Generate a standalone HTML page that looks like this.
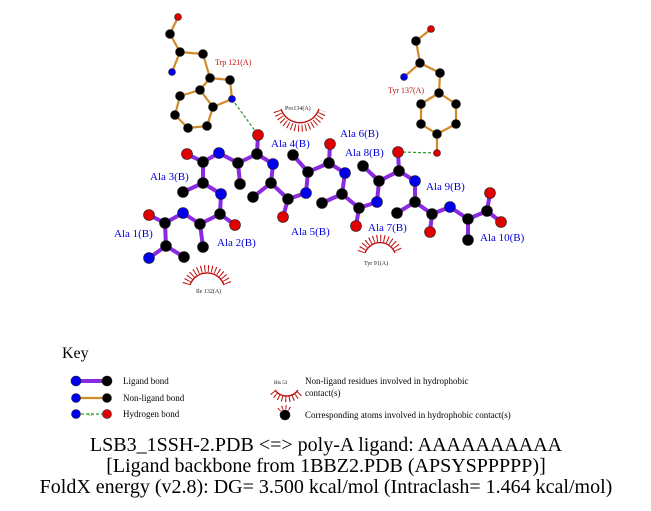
<!DOCTYPE html>
<html><head><meta charset="utf-8"><style>
html,body{margin:0;padding:0;background:#fff;width:651px;height:511px;overflow:hidden}
svg{display:block}
.lb{stroke:#8a2be2;stroke-width:4;stroke-linecap:round}
.nb{stroke:#d08a2a;stroke-width:2.2}
.C{fill:#000}.N{fill:#0000ee}.O{fill:#e00000}
circle{stroke:#222;stroke-width:.6}
.al{font:11px "Liberation Serif",serif;fill:#0000dd}
.rl{font:8px "Liberation Serif",serif;fill:#c01010}
.sl{font:6px "Liberation Serif",serif;fill:#222}
.k{font:9px "Liberation Serif",serif;fill:#000}
.t{font:20px "Liberation Serif",serif;fill:#000}
.arc{fill:none;stroke:#c01010;stroke-width:1.4}
.sp{fill:none;stroke:#c01010;stroke-width:7;stroke-dasharray:1 2.6}
</style></head><body>
<svg width="651" height="511" viewBox="0 0 651 511" xmlns="http://www.w3.org/2000/svg">
<g class="nb">
<line x1="178" y1="17" x2="170" y2="34"/><line x1="170" y1="34" x2="180" y2="52"/><line x1="180" y1="52" x2="172" y2="72"/><line x1="180" y1="52" x2="203" y2="54"/><line x1="203" y1="54" x2="210" y2="78"/><line x1="210" y1="78" x2="230" y2="80"/><line x1="230" y1="80" x2="232" y2="99"/><line x1="232" y1="99" x2="213" y2="107"/><line x1="213" y1="107" x2="200" y2="90"/><line x1="200" y1="90" x2="210" y2="78"/><line x1="200" y1="90" x2="180" y2="96"/><line x1="180" y1="96" x2="175" y2="115"/><line x1="175" y1="115" x2="188" y2="128"/><line x1="188" y1="128" x2="207" y2="126"/><line x1="207" y1="126" x2="213" y2="107"/>
<line x1="431" y1="29" x2="416" y2="41"/><line x1="416" y1="41" x2="420" y2="63"/><line x1="420" y1="63" x2="404" y2="77"/><line x1="420" y1="63" x2="440" y2="73"/><line x1="440" y1="73" x2="439" y2="93"/><line x1="439" y1="93" x2="456" y2="104"/><line x1="456" y1="104" x2="456" y2="124"/><line x1="456" y1="124" x2="437" y2="134"/><line x1="437" y1="134" x2="421" y2="124"/><line x1="421" y1="124" x2="421" y2="104"/><line x1="421" y1="104" x2="439" y2="93"/><line x1="437" y1="134" x2="437" y2="153"/>
</g>
<g stroke="#2a9a2a" stroke-width="1.2" stroke-dasharray="3 2">
<line x1="232" y1="99" x2="258" y2="135"/><line x1="398" y1="152" x2="437" y2="153"/>
</g>
<g class="lb">
<line x1="149" y1="258" x2="166" y2="246"/><line x1="166" y1="246" x2="184" y2="257"/><line x1="166" y1="246" x2="165" y2="223"/><line x1="165" y1="223" x2="149" y2="215"/><line x1="165" y1="223" x2="183" y2="213"/><line x1="183" y1="213" x2="200" y2="224"/><line x1="200" y1="224" x2="203" y2="247"/><line x1="200" y1="224" x2="220" y2="214"/><line x1="220" y1="214" x2="235" y2="225"/><line x1="220" y1="214" x2="221" y2="194"/><line x1="221" y1="194" x2="203" y2="183"/><line x1="203" y1="183" x2="183" y2="192"/><line x1="203" y1="183" x2="203" y2="162"/><line x1="203" y1="162" x2="187" y2="154"/><line x1="203" y1="162" x2="219" y2="153"/><line x1="219" y1="153" x2="238" y2="163"/><line x1="238" y1="163" x2="240" y2="184"/><line x1="238" y1="163" x2="257" y2="154"/><line x1="257" y1="154" x2="258" y2="135"/><line x1="257" y1="154" x2="273" y2="164"/><line x1="273" y1="164" x2="271" y2="183"/><line x1="271" y1="183" x2="253" y2="197"/><line x1="271" y1="183" x2="288" y2="199"/><line x1="288" y1="199" x2="283" y2="217"/><line x1="288" y1="199" x2="306" y2="193"/><line x1="306" y1="193" x2="308" y2="172"/><line x1="308" y1="172" x2="293" y2="155"/><line x1="308" y1="172" x2="329" y2="163"/><line x1="329" y1="163" x2="330" y2="144"/><line x1="329" y1="163" x2="345" y2="173"/><line x1="345" y1="173" x2="342" y2="194"/><line x1="342" y1="194" x2="322" y2="203"/><line x1="342" y1="194" x2="359" y2="208"/><line x1="359" y1="208" x2="356" y2="226"/><line x1="359" y1="208" x2="377" y2="202"/><line x1="377" y1="202" x2="379" y2="181"/><line x1="379" y1="181" x2="363" y2="166"/><line x1="379" y1="181" x2="399" y2="171"/><line x1="399" y1="171" x2="398" y2="152"/><line x1="399" y1="171" x2="415" y2="181"/><line x1="415" y1="181" x2="415" y2="202"/><line x1="415" y1="202" x2="397" y2="213"/><line x1="415" y1="202" x2="432" y2="214"/><line x1="432" y1="214" x2="430" y2="232"/><line x1="432" y1="214" x2="450" y2="207"/><line x1="450" y1="207" x2="468" y2="219"/><line x1="468" y1="219" x2="468" y2="240"/><line x1="468" y1="219" x2="487" y2="211"/><line x1="487" y1="211" x2="490" y2="193"/><line x1="487" y1="211" x2="501" y2="222"/>
</g>
<path class="arc" d="M281,109 A20,20 0 0 0 319,109"/><path class="sp" d="M277,111 A24,24 0 0 0 323,111"/>
<path class="arc" d="M190,285 A18,18 0 0 1 224,285"/><path class="sp" d="M186,284 A22,22 0 0 1 228,284"/>
<path class="arc" d="M365,253 A16,16 0 0 1 395,253"/><path class="sp" d="M361,252 A20,20 0 0 1 399,252"/>
<g>
<circle class="O" cx="178" cy="17" r="3.5"/><circle class="C" cx="170" cy="34" r="4.5"/><circle class="C" cx="180" cy="52" r="4.5"/><circle class="N" cx="172" cy="72" r="3.5"/><circle class="C" cx="203" cy="54" r="4.5"/><circle class="C" cx="210" cy="78" r="4.5"/><circle class="C" cx="230" cy="80" r="4.5"/><circle class="N" cx="232" cy="99" r="3.5"/><circle class="C" cx="213" cy="107" r="4.5"/><circle class="C" cx="200" cy="90" r="4.5"/><circle class="C" cx="180" cy="96" r="4.5"/><circle class="C" cx="175" cy="115" r="4.5"/><circle class="C" cx="188" cy="128" r="4.5"/><circle class="C" cx="207" cy="126" r="4.5"/>
<circle class="O" cx="431" cy="29" r="3.5"/><circle class="C" cx="416" cy="41" r="4.5"/><circle class="C" cx="420" cy="63" r="4.5"/><circle class="N" cx="404" cy="77" r="3.5"/><circle class="C" cx="440" cy="73" r="4.5"/><circle class="C" cx="439" cy="93" r="4.5"/><circle class="C" cx="456" cy="104" r="4.5"/><circle class="C" cx="456" cy="124" r="4.5"/><circle class="C" cx="437" cy="134" r="4.5"/><circle class="C" cx="421" cy="124" r="4.5"/><circle class="C" cx="421" cy="104" r="4.5"/><circle class="O" cx="437" cy="153" r="3.5"/>
</g>
<g>
<circle class="N" cx="149" cy="258" r="5.5"/><circle class="C" cx="166" cy="246" r="5.5"/><circle class="C" cx="184" cy="257" r="5.5"/><circle class="C" cx="165" cy="223" r="5.5"/><circle class="O" cx="149" cy="215" r="5.5"/><circle class="N" cx="183" cy="213" r="5.5"/><circle class="C" cx="200" cy="224" r="5.5"/><circle class="C" cx="203" cy="247" r="5.5"/><circle class="C" cx="220" cy="214" r="5.5"/><circle class="O" cx="235" cy="225" r="5.5"/><circle class="N" cx="221" cy="194" r="5.5"/><circle class="C" cx="203" cy="183" r="5.5"/><circle class="C" cx="183" cy="192" r="5.5"/><circle class="C" cx="203" cy="162" r="5.5"/><circle class="O" cx="187" cy="154" r="5.5"/><circle class="N" cx="219" cy="153" r="5.5"/><circle class="C" cx="238" cy="163" r="5.5"/><circle class="C" cx="240" cy="184" r="5.5"/><circle class="C" cx="257" cy="154" r="5.5"/><circle class="O" cx="258" cy="135" r="5.5"/><circle class="N" cx="273" cy="164" r="5.5"/><circle class="C" cx="271" cy="183" r="5.5"/><circle class="C" cx="253" cy="197" r="5.5"/><circle class="C" cx="288" cy="199" r="5.5"/><circle class="O" cx="283" cy="217" r="5.5"/><circle class="N" cx="306" cy="193" r="5.5"/><circle class="C" cx="308" cy="172" r="5.5"/><circle class="C" cx="293" cy="155" r="5.5"/><circle class="C" cx="329" cy="163" r="5.5"/><circle class="O" cx="330" cy="144" r="5.5"/><circle class="N" cx="345" cy="173" r="5.5"/><circle class="C" cx="342" cy="194" r="5.5"/><circle class="C" cx="322" cy="203" r="5.5"/><circle class="C" cx="359" cy="208" r="5.5"/><circle class="O" cx="356" cy="226" r="5.5"/><circle class="N" cx="377" cy="202" r="5.5"/><circle class="C" cx="379" cy="181" r="5.5"/><circle class="C" cx="363" cy="166" r="5.5"/><circle class="C" cx="399" cy="171" r="5.5"/><circle class="O" cx="398" cy="152" r="5.5"/><circle class="N" cx="415" cy="181" r="5.5"/><circle class="C" cx="415" cy="202" r="5.5"/><circle class="C" cx="397" cy="213" r="5.5"/><circle class="C" cx="432" cy="214" r="5.5"/><circle class="O" cx="430" cy="232" r="5.5"/><circle class="N" cx="450" cy="207" r="5.5"/><circle class="C" cx="468" cy="219" r="5.5"/><circle class="C" cx="468" cy="240" r="5.5"/><circle class="C" cx="487" cy="211" r="5.5"/><circle class="O" cx="490" cy="193" r="5.5"/><circle class="O" cx="501" cy="222" r="5.5"/>
</g>
<text class="rl" x="215" y="65">Trp 121(A)</text>
<text class="rl" x="388" y="93">Tyr 137(A)</text>
<text class="sl" x="285" y="110">Pro134(A)</text>
<text class="sl" x="364" y="265">Tyr 91(A)</text>
<text class="sl" x="196" y="293">Ile 132(A)</text>
<text class="al" x="114" y="237">Ala 1(B)</text>
<text class="al" x="217" y="246">Ala 2(B)</text>
<text class="al" x="150" y="180">Ala 3(B)</text>
<text class="al" x="271" y="147">Ala 4(B)</text>
<text class="al" x="291" y="235">Ala 5(B)</text>
<text class="al" x="340" y="137">Ala 6(B)</text>
<text class="al" x="368" y="231">Ala 7(B)</text>
<text class="al" x="345" y="156">Ala 8(B)</text>
<text class="al" x="426" y="190">Ala 9(B)</text>
<text class="al" x="480" y="241">Ala 10(B)</text>
<text x="62" y="358" style="font:16px 'Liberation Serif',serif">Key</text>
<line x1="76" y1="381" x2="107" y2="381" class="lb"/><circle class="N" cx="76" cy="381" r="5"/><circle class="C" cx="107" cy="381" r="5"/>
<line x1="76" y1="398" x2="107" y2="398" class="nb"/><circle class="N" cx="76" cy="398" r="4.5"/><circle class="C" cx="107" cy="398" r="4.5"/>
<line x1="76" y1="414" x2="107" y2="414" stroke="#2a9a2a" stroke-width="1.2" stroke-dasharray="3 2"/><text x="88" y="416" style="font:4px serif;fill:#2a9a2a">3.0</text><circle class="N" cx="76" cy="414" r="4.5"/><circle class="O" cx="107" cy="414" r="4.5"/>
<text class="k" x="123" y="384">Ligand bond</text>
<text class="k" x="123" y="401">Non-ligand bond</text>
<text class="k" x="123" y="417">Hydrogen bond</text>
<text x="274" y="384" style="font:5px 'Liberation Serif',serif">His 53</text>
<path class="arc" d="M275,390 A14,14 0 0 0 298,390"/><path class="sp" d="M273,392 A17,17 0 0 0 300,392"/>
<circle class="C" cx="285" cy="415" r="5"/><path class="sp" style="stroke-width:4" d="M279,410 A8,8 0 0 1 291,410"/>
<text class="k" x="305" y="384">Non-ligand residues involved in hydrophobic</text>
<text class="k" x="305" y="396">contact(s)</text>
<text class="k" x="305" y="418">Corresponding atoms involved in hydrophobic contact(s)</text>
<text class="t" x="326" y="451" text-anchor="middle">LSB3_1SSH-2.PDB &lt;=&gt; poly-A ligand: AAAAAAAAAA</text>
<text class="t" x="326" y="472" text-anchor="middle">[Ligand backbone from 1BBZ2.PDB (APSYSPPPPP)]</text>
<text class="t" x="326" y="493" text-anchor="middle">FoldX energy (v2.8): DG= 3.500 kcal/mol (Intraclash= 1.464 kcal/mol)</text>
</svg>
</body></html>
